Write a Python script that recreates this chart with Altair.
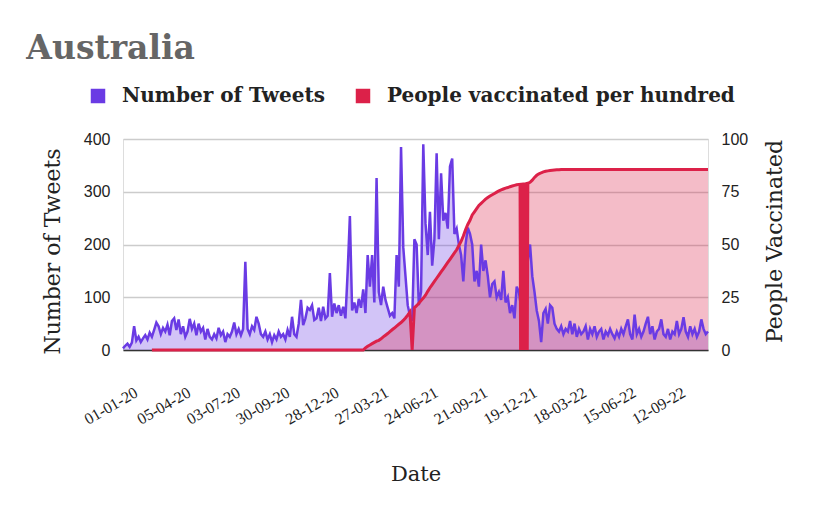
import altair as alt
import pandas as pd

# ---------------- data ----------------
start_date = "2020-01-01"
step_days = 4

tweets = [
    3, 8, 12, 6, 14, 45, 18, 25, 15, 22,
    28, 20, 33, 25, 38, 52, 45, 30, 42, 35,
    48, 28, 55, 60, 38, 58, 30, 45, 25, 35,
    59, 40, 50, 28, 50, 35, 42, 20, 40, 25,
    20, 30, 22, 42, 28, 35, 15, 30, 25, 35,
    52, 30, 40, 28, 40, 167, 40, 30, 45, 38,
    63, 50, 30, 25, 35, 20, 30, 15, 28, 20,
    35, 25, 30, 20, 38, 25, 63, 30, 25, 50,
    95, 47, 60, 80, 76, 85, 57, 60, 80, 55,
    82, 60, 65, 146, 63, 88, 70, 85, 65, 82,
    60, 148, 254, 75, 90, 70, 97, 80, 115, 70,
    180, 120, 180, 90, 326, 110, 85, 120, 95, 80,
    65, 70, 60, 180, 120, 385, 195, 140, 85, 65,
    55, 210, 200, 85, 110, 390, 240, 180, 262, 160,
    210, 373, 210, 335, 245, 260, 230, 348, 363, 220,
    230, 200, 180, 130, 200, 232, 220, 200, 130, 150,
    120, 200, 150, 170, 140, 100, 125, 130, 100, 110,
    95, 150, 90, 100, 70, 85, 60, 120, 110, 80,
    90, 65, 170, 200, 140, 110, 75, 55, 15, 70,
    78, 50, 85, 80, 50, 40, 35, 45, 30, 40,
    35, 55, 30, 50, 25, 40, 30, 35, 45, 20,
    40, 30, 45, 25, 35, 40, 20, 35, 28, 40,
    30, 22, 35, 25, 40, 30, 45, 58, 30, 20,
    67, 30, 40, 25, 35, 50, 63, 30, 45, 20,
    35, 40, 58, 30, 25, 40, 20, 35, 30, 55,
    30, 40, 62, 35, 25, 45, 30, 40, 25, 35,
    58, 40, 30, 35,
]

vaccinated = [
    None, None, None, None, None, None, None, None, None, None,
    None, None, None,
    0, 0, 0, 0, 0, 0, 0, 0, 0, 0, 0, 0, 0, 0, 0, 0,
    0, 0, 0, 0, 0, 0, 0, 0, 0, 0, 0, 0, 0, 0, 0, 0,
    0, 0, 0, 0, 0, 0, 0, 0, 0, 0, 0, 0, 0, 0, 0, 0,
    0, 0, 0, 0, 0, 0, 0, 0, 0, 0, 0, 0, 0, 0, 0, 0,
    0, 0, 0, 0, 0, 0, 0, 0, 0, 0, 0, 0, 0, 0, 0, 0,
    0, 0, 0, 0, 0, 0, 0, 0, 0, 0, 0, 0, 0, 0, 0, 0,
    1, 1.8, 2.4, 3, 3.6, 4.2, 4.6, 5.3, 6.2, 7, 7.8, 8.7, 9.6, 10.4,
    11.3, 12.2, 13, 14, 15.2, 16.5, 18,
    0,
    20, 21, 22.2, 23.4, 24.6, 26, 27.8, 29.5, 31, 32.5, 34, 35.5, 37,
    38.5, 40, 41.5, 43, 44.5, 46, 47.5, 49.5, 51.5, 54, 57, 59.5, 61.5,
    64, 65.5, 67, 68.5, 69.5, 70.5, 71.5, 72.3, 73, 73.6, 74.2, 74.8,
    75.4, 75.9, 76.3, 76.7, 77, 77.4, 77.7, 78, 78.3,
    78.5, 78.6, 78.7, 78.8, 79.0,
    79.5, 80.5, 81.8, 82.8, 83.5, 84, 84.4, 84.7, 84.9, 85.1, 85.2, 85.3, 85.4,
    85.4, 85.5, 85.5, 85.5, 85.5, 85.5, 85.5, 85.5, 85.5, 85.5, 85.5, 85.5,
    85.5, 85.5, 85.5, 85.5, 85.5, 85.5, 85.5, 85.5, 85.5, 85.5, 85.5, 85.5,
    85.5, 85.5, 85.5, 85.5, 85.5, 85.5, 85.5, 85.5, 85.5, 85.5, 85.5, 85.5,
    85.5, 85.5, 85.5, 85.5, 85.5, 85.5, 85.5, 85.5, 85.5, 85.5, 85.5, 85.5,
    85.5, 85.5, 85.5, 85.5, 85.5, 85.5, 85.5, 85.5, 85.5, 85.5, 85.5, 85.5,
    85.5, 85.5, 85.5, 85.5, 85.5, 85.5, 85.5, 85.5,
]

# daily readings in mid/late December 2021, where the series keeps dropping to 0
dropout_dates = [
    "2021-12-15", "2021-12-16", "2021-12-17", "2021-12-18",
    "2021-12-19", "2021-12-20", "2021-12-21", "2021-12-22", "2021-12-23",
    "2021-12-24", "2021-12-25", "2021-12-26", "2021-12-27", "2021-12-28",
    "2021-12-29", "2021-12-30",
]
dropout_values = [
    78.5, 0, 78.6, 0, 78.6, 0, 78.7, 0,
    78.7, 0, 78.8, 0, 78.8, 0, 78.9, 79.0,
]

tick_labels = ["01-01-20", "05-04-20", "03-07-20", "30-09-20", "28-12-20",
               "27-03-21", "24-06-21", "21-09-21", "19-12-21", "18-03-22",
               "15-06-22", "12-09-22"]
left_ticks = [0, 100, 200, 300, 400]
right_ticks = [0, 25, 50, 75, 100]

series_names = ["Number of Tweets", "People vaccinated per hundred"]
series_colors = ["#6a3be4", "#dc2149"]

# ---------------- tables ----------------
dates = pd.date_range(start_date, periods=len(tweets), freq=f"{step_days}D")
df = pd.DataFrame({
    "date": dates.strftime("%Y-%m-%dT00:00:00"),
    "tweets": tweets,
    "vacc": vaccinated,
})
df_drop = pd.DataFrame({
    "date": [d + "T00:00:00" for d in dropout_dates],
    "vacc": dropout_values,
})

tick_values = []
for lab in tick_labels:
    d, m, y = lab.split("-")
    tick_values.append(alt.DateTime(year=2000 + int(y), month=int(m), date=int(d)))

x_dom = [alt.DateTime(year=dates[0].year, month=dates[0].month, date=dates[0].day),
         alt.DateTime(year=dates[-1].year, month=dates[-1].month, date=dates[-1].day)]

SERIF = "DejaVu Serif"
SANS = "Liberation Sans"

x_enc = alt.X(
    "date:T",
    scale=alt.Scale(domain=x_dom, nice=False),
    axis=alt.Axis(
        values=tick_values, format="%d-%m-%y", labelAngle=-30,
        labelAlign="right", labelBaseline="top", labelOverlap=False,
        labelFlush=False, labelPadding=34, labelOffset=9,
        labelFont="Liberation Serif", labelFontSize=16, labelColor="#222222",
        grid=False, ticks=False, domain=True, domainColor="#333333",
        domainWidth=1.5, title="Date", titleFont=SERIF, titleFontSize=21,
        titleFontWeight="normal", titleColor="#222222", titlePadding=36,
    ),
)

y_left = alt.Y(
    "tweets:Q",
    scale=alt.Scale(domain=[0, 400], nice=False),
    axis=alt.Axis(
        values=left_ticks, grid=True, gridColor="#cccccc", gridWidth=1.5,
        ticks=False, domain=False, labelFont=SANS, labelFontSize=16,
        labelColor="#222222", labelPadding=13, title="Number of Tweets",
        titleFont=SERIF, titleFontSize=22, titleFontWeight="normal",
        titleColor="#222222", titlePadding=19, titleY=112,
    ),
)
y_left_plain = alt.Y("tweets:Q", scale=alt.Scale(domain=[0, 400], nice=False),
                     axis=None)

y_right = alt.Y(
    "vacc:Q",
    scale=alt.Scale(domain=[0, 100], nice=False),
    axis=alt.Axis(
        orient="right", values=right_ticks, grid=False, ticks=False,
        domain=False, labelFont=SANS, labelFontSize=16, labelColor="#222222",
        labelPadding=13, title="People Vaccinated", titleAngle=-90,
        titleBaseline="top", titleFont=SERIF, titleFontSize=22,
        titleFontWeight="normal", titleColor="#222222", titlePadding=17,
        titleY=102,
    ),
)
y_right_plain = alt.Y("vacc:Q", scale=alt.Scale(domain=[0, 100], nice=False),
                      axis=None)

legend = alt.Legend(
    orient="none", legendX=-35, legendY=-53, direction="horizontal",
    title=None, symbolType="square", symbolSize=210, symbolOpacity=1,
    symbolStrokeWidth=0, labelFont=SERIF, labelFontWeight="bold",
    labelFontSize=20, labelColor="#222222", labelLimit=600,
    columnPadding=28, labelOffset=14, padding=0,
)

color_enc = alt.Color(
    "series:N",
    scale=alt.Scale(domain=series_names, range=series_colors),
    legend=legend,
)

base = alt.Chart(df)
vbase = base.transform_filter("isValid(datum.vacc)")

tw_area = base.transform_calculate(series=f"'{series_names[0]}'").mark_area(
    fillOpacity=0.3
).encode(x=x_enc, y=y_left, color=color_enc)

vac_area = vbase.transform_calculate(series=f"'{series_names[1]}'").mark_area(
    fillOpacity=0.3
).encode(x=x_enc, y=y_right, color=color_enc)

tw_line = base.mark_line(color=series_colors[0], strokeWidth=2.5).encode(
    x=x_enc, y=y_left_plain)
vac_line = vbase.mark_line(color=series_colors[1], strokeWidth=3).encode(
    x=x_enc, y=y_right_plain)
vac_drop = alt.Chart(df_drop).mark_line(
    color=series_colors[1], strokeWidth=3).encode(x=x_enc, y=y_right_plain)

chart = alt.layer(tw_area, vac_area, tw_line, vac_line, vac_drop).resolve_scale(
    y="independent"
).properties(
    width=585,
    height=211,
    title=alt.TitleParams(
        "Australia", anchor="start", font=SERIF, fontSize=33,
        fontWeight="bold", color="#666666", dx=-15, offset=20,
    ),
    autosize=alt.AutoSizeParams(type="none"),
    padding={"left": 115, "top": 131, "right": 100, "bottom": 150},
).configure_view(stroke=None).configure(background="white")

chart.save("out.html", embed_options={"renderer": "svg", "actions": False})
